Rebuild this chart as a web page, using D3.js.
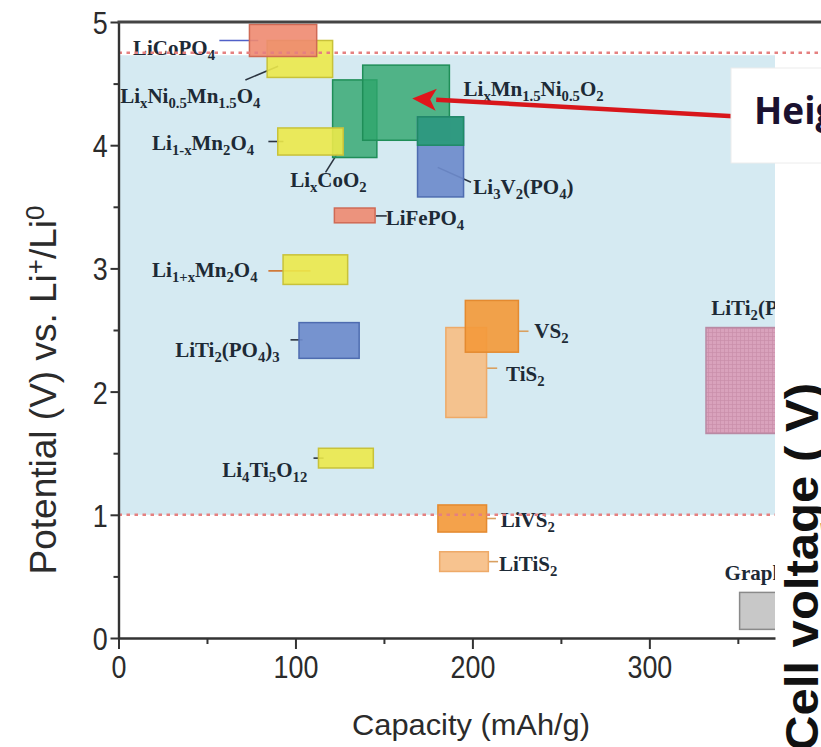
<!DOCTYPE html>
<html>
<head>
<meta charset="utf-8">
<script src="https://cdn.jsdelivr.net/npm/d3@7"></script>
<style>
  body { margin: 0; background: #fff; }
  svg { display: block; }
</style>
</head>
<body>
<svg id="chart" width="821" height="747"></svg>
<script>
// Electrode materials: capacity window (mAh/g) and potential window (V vs Li+/Li0)
const materials = ["LixNi0.5Mn1.5O4", "LiCoPO4", "LixCoO2", "LixMn1.5Ni0.5O2", "Li3V2(PO4)3",
  "Li3V2(PO4)3 upper", "Li1-xMn2O4", "LiFePO4", "Li1+xMn2O4", "LiTi2(PO4)3", "Li4Ti5O12",
  "TiS2", "VS2", "LiVS2", "LiTiS2", "LiTi2(PS4)3", "Graphite"];
const capacityLow  = [84, 74, 121, 138, 169, 169, 90, 122, 93, 102, 113, 185, 196, 180.5, 181.5, 332, 351];
const capacityHigh = [121, 112, 146, 187, 195, 195, 127, 145, 129.5, 136, 144, 208, 226, 208, 209, 385, 385];
const potentialLow  = [4.55, 4.72, 3.90, 4.04, 3.58, 4.00, 3.92, 3.37, 2.87, 2.27, 1.38, 1.79, 2.32, 0.86, 0.54, 1.66, 0.07];
const potentialHigh = [4.85, 4.98, 4.53, 4.65, 4.23, 4.23, 4.14, 3.49, 3.11, 2.56, 1.54, 2.52, 2.74, 1.08, 0.70, 2.52, 0.37];
const family = ["spinel", "phosphate", "layered", "layered", "vphosphate", "mixed", "spinel", "phosphate",
  "spinel", "vphosphate", "spinel", "sulfideLight", "sulfide", "sulfide", "sulfideLight", "thiophosphate", "carbon"];

// Text labels (markup: _{...} subscript, ^{...} superscript)
const labelText = ["LiCoPO_{4}", "Li_{x}Ni_{0.5}Mn_{1.5}O_{4}", "Li_{1-x}Mn_{2}O_{4}", "Li_{x}CoO_{2}",
  "Li_{x}Mn_{1.5}Ni_{0.5}O_{2}", "Li_{3}V_{2}(PO_{4})", "LiFePO_{4}", "Li_{1+x}Mn_{2}O_{4}",
  "LiTi_{2}(PO_{4})_{3}", "Li_{4}Ti_{5}O_{12}", "VS_{2}", "TiS_{2}", "LiVS_{2}", "LiTiS_{2}",
  "LiTi_{2}(PS_{4})_{3}", "Graphite"];
const labelCapacity  = [8.2, 1, 19, 97, 195, 200.5, 151, 19, 32, 58.6, 235, 219, 216, 215, 335, 342.5];
const labelPotential = [4.73, 4.34, 3.96, 3.66, 4.40, 3.60, 3.35, 2.93, 2.28, 1.31, 2.435, 2.09, 0.90, 0.54, 2.62, 0.47];

// Leader lines from labels to boxes: [cap1, V1, cap2, V2]
const leaderLines = [
  [57, 4.85, 79, 4.85], [71.7, 4.53, 90.2, 4.64], [84.7, 4.03, 93.2, 4.03], [117, 3.78, 124, 3.94],
  [180.4, 3.82, 199.2, 3.70], [145.3, 3.426, 151.6, 3.426], [84.7, 2.98, 108.5, 2.98],
  [97.2, 2.42, 104, 2.42], [110.2, 1.46, 115.9, 1.46], [226, 2.49, 231.7, 2.49],
  [207.6, 2.19, 214, 2.19], [207.6, 0.97, 213.3, 0.97], [208.8, 0.62, 214.5, 0.62]];
const leaderColor = ["#5060c8", "#2b3440", "#2b3440", "#2b3440", "#2b3440", "#2b3440", "#d07a3a",
  "#2b3440", "#2b3440", "#d9a060", "#d9a060", "#d9a060", "#d9a060"];

// Reference potential limits and the shaded window between them
const dashedLevels = [4.75, 1.0];
const windowLow = 1.0, windowHigh = 4.73;

// Axis ticks
const xTicks = [0, 100, 200, 300];
const xMinorTicks = [50, 150, 250, 350];
const yTicks = [0, 1, 2, 3, 4, 5];
const yMinorTicks = [0.5, 1.5, 2.5, 3.5, 4.5];

// Annotation arrow (capacity, potential)
const arrowFrom = [347.5, 4.235];
const arrowTo = [166, 4.38];

const colors = {
  spinel:        { fill: "#ece94a", stroke: "#c8c23a", op: 0.9 },
  phosphate:     { fill: "#ee8a70", stroke: "#cf6a55", op: 0.9 },
  layered:       { fill: "#2ea56b", stroke: "#1f8e58", op: 0.8 },
  mixed:         { fill: "#2c9a7c", stroke: "#1f8a66", op: 0.95 },
  vphosphate:    { fill: "#6e8bcc", stroke: "#4e6cb0", op: 0.92 },
  sulfide:       { fill: "#f39a3c", stroke: "#e48a30", op: 0.92 },
  sulfideLight:  { fill: "#f6be86", stroke: "#eeaa68", op: 0.92 },
  thiophosphate: { fill: "url(#pinkGrid)", stroke: "#b98aa4", op: 1 },
  carbon:        { fill: "#c8c8c8", stroke: "#8a8a8a", op: 1 }
};

const svg = d3.select("#chart");
const x = d3.scaleLinear().domain([0, 371]).range([118.5, 775]);
const y = d3.scaleLinear().domain([0, 5]).range([638, 22]);

const defs = svg.append("defs");
defs.append("clipPath").attr("id", "plotClip")
  .append("rect").attr("x", x(0)).attr("y", 0).attr("width", x(371) - x(0)).attr("height", y(0));
const pat = defs.append("pattern").attr("id", "pinkGrid")
  .attr("width", 4).attr("height", 4).attr("patternUnits", "userSpaceOnUse");
pat.append("rect").attr("width", 4).attr("height", 4).attr("fill", "#d9a2bc");
pat.append("path").attr("d", "M0 0.5H4M0.5 0V4").attr("stroke", "#c98ea9").attr("stroke-width", 0.7);

// Writes text with sub/superscripts into a <text> element
function richText(textSel, str) {
  const re = /_\{([^}]*)\}|\^\{([^}]*)\}|([^_^]+)/g;
  let m, shift = 0;
  while ((m = re.exec(str)) !== null) {
    let target = 0, content, small = false;
    if (m[1] !== undefined) { target = 5; content = m[1]; small = true; }
    else if (m[2] !== undefined) { target = -12; content = m[2]; small = true; }
    else { content = m[3]; }
    const t = textSel.append("tspan").text(content).attr("dy", target - shift);
    if (small) t.attr("font-size", "0.7em");
    shift = target;
  }
}

const plot = svg.append("g").attr("clip-path", "url(#plotClip)");

// Shaded stability window
plot.append("rect")
  .attr("x", x(0)).attr("width", x(371) - x(0))
  .attr("y", y(windowHigh)).attr("height", y(windowLow) - y(windowHigh))
  .attr("fill", "#d5eaf2");

// Dotted reference lines
svg.selectAll("line.level").data(dashedLevels).join("line")
  .attr("class", "level")
  .attr("x1", x(0)).attr("x2", (d, i) => i === 0 ? 821 : x(371))
  .attr("y1", d => y(d)).attr("y2", d => y(d))
  .attr("stroke", "#e58080").attr("stroke-width", 2.5)
  .attr("stroke-dasharray", "3.5 4.5");

// Leader lines
plot.selectAll("line.leader").data(leaderLines).join("line")
  .attr("class", "leader")
  .attr("x1", d => x(d[0])).attr("y1", d => y(d[1]))
  .attr("x2", d => x(d[2])).attr("y2", d => y(d[3]))
  .attr("stroke", (d, i) => leaderColor[i]).attr("stroke-width", 1.6);

// Material boxes
plot.selectAll("rect.box").data(materials).join("rect")
  .attr("class", "box")
  .attr("x", (d, i) => x(capacityLow[i]))
  .attr("width", (d, i) => x(capacityHigh[i]) - x(capacityLow[i]))
  .attr("y", (d, i) => y(potentialHigh[i]))
  .attr("height", (d, i) => y(potentialLow[i]) - y(potentialHigh[i]))
  .attr("fill", (d, i) => colors[family[i]].fill)
  .attr("fill-opacity", (d, i) => colors[family[i]].op)
  .attr("stroke", (d, i) => colors[family[i]].stroke)
  .attr("stroke-width", 1.5);

// Material labels
plot.selectAll("text.mat").data(labelText).join("text")
  .attr("class", "mat")
  .attr("x", (d, i) => x(labelCapacity[i]))
  .attr("y", (d, i) => y(labelPotential[i]))
  .attr("font-family", "'Liberation Serif', 'Times New Roman', serif")
  .attr("font-weight", "bold")
  .attr("font-size", 21)
  .attr("fill", "#1d2a36")
  .each(function (d) { richText(d3.select(this), d); });

// Annotation arrow
const ax1 = x(arrowFrom[0]), ay1 = y(arrowFrom[1]);
const ax2 = x(arrowTo[0]), ay2 = y(arrowTo[1]);
const ang = Math.atan2(ay2 - ay1, ax2 - ax1);
const headLen = 24, headW = 11;
const bx = ax2 - headLen * Math.cos(ang), by = ay2 - headLen * Math.sin(ang);
svg.append("line")
  .attr("x1", ax1).attr("y1", ay1).attr("x2", bx).attr("y2", by)
  .attr("stroke", "#d8161b").attr("stroke-width", 4.5);
svg.append("path")
  .attr("d", `M${ax2},${ay2}L${bx - headW * Math.sin(ang)},${by + headW * Math.cos(ang)}L${bx + 6 * Math.cos(ang)},${by + 6 * Math.sin(ang)}L${bx + headW * Math.sin(ang)},${by - headW * Math.cos(ang)}Z`)
  .attr("fill", "#e0161b");

// Axes
const axisFont = "'Liberation Sans', Arial, sans-serif";
const gx = svg.append("g").attr("transform", `translate(0,${y(0)})`)
  .call(d3.axisBottom(x).tickValues(xTicks).tickFormat(d3.format("d"))
    .tickSize(11).tickSizeOuter(0).tickPadding(6));
svg.append("g").attr("transform", `translate(0,${y(0)})`)
  .call(d3.axisBottom(x).tickValues(xMinorTicks).tickSize(6).tickFormat(""))
  .call(g => g.select(".domain").remove());
const gy = svg.append("g").attr("transform", `translate(${x(0)},0)`)
  .call(d3.axisLeft(y).tickValues(yTicks).tickFormat(d3.format("d"))
    .tickSize(8).tickSizeOuter(0).tickPadding(5));
svg.append("g").attr("transform", `translate(${x(0)},0)`)
  .call(d3.axisLeft(y).tickValues(yMinorTicks).tickSize(5).tickFormat(""))
  .call(g => g.select(".domain").remove());

svg.selectAll(".domain").attr("stroke", "#333").attr("stroke-width", 2.4);
svg.selectAll(".tick line").attr("stroke", "#333").attr("stroke-width", 2);
gx.selectAll(".tick text")
  .attr("font-family", axisFont).attr("font-size", 32).attr("fill", "#2b2b2b")
  .attr("transform", "scale(0.84,1)");
gy.selectAll(".tick text")
  .attr("font-family", axisFont).attr("font-size", 32).attr("fill", "#2b2b2b")
  .attr("dy", "0.36em")
  .attr("transform", "scale(0.84,1)");

// Top frame line
svg.append("line")
  .attr("x1", x(0) - 1).attr("x2", 821).attr("y1", y(5)).attr("y2", y(5))
  .attr("stroke", "#444").attr("stroke-width", 3);

// Axis titles
svg.append("text")
  .attr("x", 471).attr("y", 735)
  .attr("text-anchor", "middle")
  .attr("font-family", axisFont).attr("font-size", 30).attr("fill", "#2b2b2b")
  .attr("textLength", 238).attr("lengthAdjust", "spacingAndGlyphs")
  .text("Capacity (mAh/g)");
const yTitle = svg.append("text")
  .attr("transform", "translate(56,390) rotate(-90)")
  .attr("text-anchor", "middle")
  .attr("font-family", axisFont).attr("font-size", 37).attr("fill", "#2b2b2b");
richText(yTitle, "Potential (V) vs. Li^{+}/Li^{0}");

// Callout box on the right
svg.append("rect")
  .attr("x", 731).attr("y", 68).attr("width", 100).attr("height", 95)
  .attr("fill", "#ffffff").attr("stroke", "#ececec");
svg.append("text")
  .attr("x", 754).attr("y", 124)
  .attr("font-family", "'Open Sans', 'DejaVu Sans', sans-serif")
  .attr("font-weight", "bold").attr("font-size", 37).attr("fill", "#1a1130")
  .text("Height");
svg.append("text")
  .attr("transform", "translate(818,383) rotate(-90)")
  .attr("text-anchor", "end")
  .attr("font-family", axisFont).attr("font-weight", "bold").attr("font-size", 46)
  .attr("fill", "#111")
  .attr("textLength", 368).attr("lengthAdjust", "spacingAndGlyphs")
  .text("Cell voltage ( V)");
</script>
</body>
</html>
